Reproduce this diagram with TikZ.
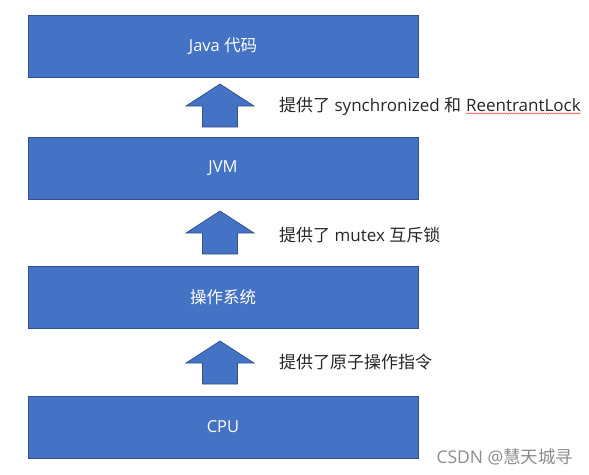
\documentclass[tikz,border=0pt]{standalone}
\usepackage{fontspec}
\setmainfont{Open Sans}
\newfontfamily\cjk{Noto Sans CJK SC}
\usetikzlibrary{positioning,decorations.pathmorphing}
\definecolor{boxblue}{HTML}{4472C4}
\definecolor{boxedge}{HTML}{2F528F}
\definecolor{notetext}{HTML}{262626}
\definecolor{marktext}{HTML}{8C8C8C}
\begin{document}
\begin{tikzpicture}[x=1pt,y=-1pt,line join=miter,
	layer/.style={draw=boxedge,fill=boxblue,line width=0.8pt,minimum width=390pt,minimum height=62pt,inner sep=0pt,text=white,font=\fontsize{16.5}{19}\selectfont},
	uparrow/.style={draw=boxedge,fill=boxblue,line width=0.7pt},
	note/.style={text=notetext,inner sep=0pt,font=\fontsize{17}{20}\selectfont}]
	\useasboundingbox (0,0) rectangle (589,474);
	\node[layer] (java) at (223,46) {Java {\cjk 代码}};
	\node[layer] (jvm) at (223,168) {JVM};
	\node[layer] (os) at (223,297) {\cjk 操作系统};
	\node[layer] (cpu) at (223,427) {CPU};
	\foreach \t in {84,211,341}
		\draw[uparrow] (220,\t) -- (254,\t+22) -- (237.5,\t+22) -- (237.5,\t+43) -- (202.5,\t+43) -- (202.5,\t+22) -- (186,\t+22) -- cycle;
	\node[note,anchor=west] (sync) at (279,106) {{\cjk 提供了} synchronized {\cjk 和}};
	\node[note,base right=4.5pt of sync] (lock) {ReentrantLock};
	\draw[red!80,line width=0.4pt,decorate,decoration={snake,amplitude=0.6pt,segment length=2.5pt}] ([yshift=-2pt]lock.south west) -- ([yshift=-2pt]lock.south east);
	\node[note,anchor=west] (mutex) at (279,235) {{\cjk 提供了} mutex {\cjk 互斥锁}};
	\node[note,anchor=west] (atomic) at (279,362) {\cjk 提供了原子操作指令};
	\node[text=marktext,inner sep=0pt,font=\fontsize{17.5}{20}\selectfont] (mark) at (505,457) {CSDN @{\cjk 慧天城寻}};
\end{tikzpicture}
\end{document}
